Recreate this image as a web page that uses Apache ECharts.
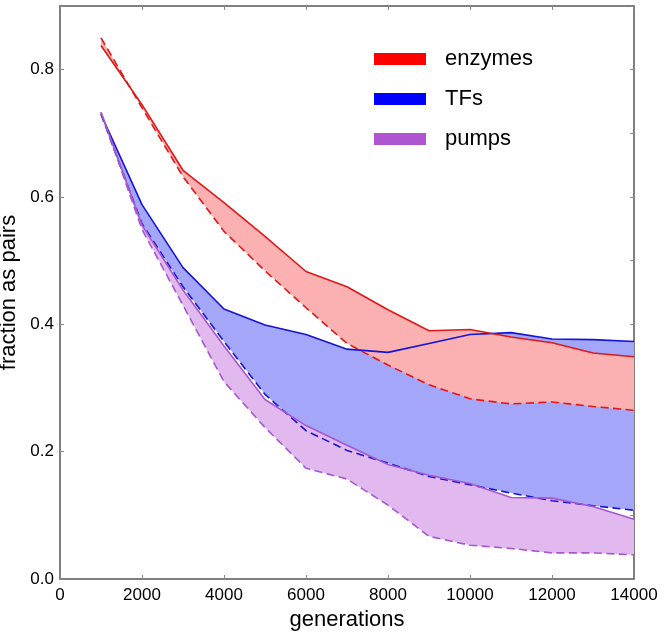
<!DOCTYPE html>
<html><head><meta charset="utf-8">
<script src="https://cdn.jsdelivr.net/npm/echarts@6/dist/echarts.min.js"></script>
<style>html,body{margin:0;padding:0;background:#fff}#c{width:664px;height:633px}</style>
</head><body><div id="c"></div>
<script>
var generations = [1000,2000,3000,4000,5000,6000,7000,8000,9000,10000,11000,12000,13000,14000];
var enzymesSolid  = [0.838,0.745,0.642,0.591,0.538,0.483,0.459,0.423,0.390,0.392,0.380,0.371,0.355,0.349];
var enzymesDashed = [0.850,0.740,0.632,0.546,0.484,0.426,0.370,0.336,0.305,0.283,0.275,0.278,0.271,0.265];
var tfsSolid      = [0.730,0.588,0.489,0.424,0.399,0.384,0.361,0.356,0.370,0.384,0.387,0.377,0.376,0.373];
var tfsDashed     = [0.730,0.558,0.459,0.373,0.290,0.233,0.202,0.182,0.161,0.148,0.135,0.123,0.115,0.108];
var pumpsSolid    = [0.733,0.556,0.454,0.366,0.282,0.241,0.210,0.180,0.163,0.150,0.128,0.127,0.114,0.094];
var pumpsDashed   = [0.733,0.549,0.430,0.310,0.238,0.174,0.157,0.116,0.067,0.053,0.048,0.041,0.041,0.038];
var xTicks = [0,2000,4000,6000,8000,10000,12000,14000];
var yTicks = [0.0,0.2,0.4,0.6,0.8];

var FONT = 'Liberation Sans';
var groups = [
  {name:'TFs', solid:tfsSolid, dashed:tfsDashed, fill:'#a4a7f9', line:'#1414d8', z:1},
  {name:'pumps', solid:pumpsSolid, dashed:pumpsDashed, fill:'#e1b9ee', line:'#a657d0', z:2},
  {name:'enzymes', solid:enzymesSolid, dashed:enzymesDashed, fill:'#fbb1b1', line:'#e01818', z:3}
];

function pairs(arr){ return generations.map(function(g,i){ return [g, arr[i]]; }); }

var series = [];
groups.forEach(function(gr){
  var bandData = generations.map(function(g,i){ return [g, gr.solid[i], gr.dashed[i]]; });
  series.push({
    name: gr.name, type:'custom', z: gr.z, silent:true,
    itemStyle:{color: gr.fill},
    encode:{x:0, y:[1,2]},
    data: bandData,
    renderItem: function(params, api){
      if (params.dataIndex !== 0) return null;
      var pts = [];
      for (var i=0;i<bandData.length;i++) pts.push(api.coord([bandData[i][0], bandData[i][1]]));
      for (var j=bandData.length-1;j>=0;j--) pts.push(api.coord([bandData[j][0], bandData[j][2]]));
      return {type:'polygon', shape:{points:pts}, style:{fill: gr.fill, stroke:null}};
    }
  });
});
groups.forEach(function(gr){
  series.push({type:'line', z:10+gr.z, data:pairs(gr.solid), symbol:'none', silent:true,
    lineStyle:{color:gr.line, width:1.6}});
  series.push({type:'line', z:10+gr.z, data:pairs(gr.dashed), symbol:'none', silent:true,
    lineStyle:{color:gr.line, width:1.6, type:[8,4.5]}});
});

var axisLine = {show:true, onZero:false, lineStyle:{color:'#555', width:1.5}};
var tick = {show:true, inside:true, length:4, lineStyle:{color:'#888', width:1}};
var chart = echarts.init(document.getElementById('c'), null, {renderer:'canvas'});
chart.setOption({
  animation:false,
  backgroundColor:'#fff',
  grid:{left:60, right:30, top:6, bottom:54, containLabel:false, outerBoundsMode:'none'},
  legend:{
    orient:'vertical', left:369, top:43, itemWidth:52, itemHeight:12, itemGap:18,
    selectedMode:false,
    textStyle:{fontFamily:FONT, fontSize:22, color:'#000', lineHeight:22, padding:[0,0,0,14]},
    data:[
      {name:'enzymes', icon:'rect', itemStyle:{color:'#ff0000'}},
      {name:'TFs', icon:'rect', itemStyle:{color:'#0000ff'}},
      {name:'pumps', icon:'rect', itemStyle:{color:'#b055d0'}}
    ]
  },
  xAxis:[
    {type:'value', min:xTicks[0], max:xTicks[xTicks.length-1], interval:2000, position:'bottom',
     name:'generations', nameLocation:'middle', nameGap:14,
     nameTextStyle:{fontFamily:FONT, fontSize:22, color:'#000'},
     axisLine:axisLine, splitLine:{show:false}, axisTick:tick,
     axisLabel:{fontFamily:FONT, fontSize:17, color:'#000', margin:8,
       formatter:function(v){ return String(v); }}},
    {type:'value', min:0, max:14000, interval:2000, position:'top',
     axisLine:axisLine, splitLine:{show:false}, axisTick:tick,
     axisLabel:{show:false}}
  ],
  yAxis:[
    {type:'value', min:0, max:0.9, interval:0.2, position:'left',
     name:'fraction as pairs', nameLocation:'middle', nameGap:30,
     nameTextStyle:{fontFamily:FONT, fontSize:22, color:'#000'},
     axisLine:axisLine, splitLine:{show:false}, axisTick:tick,
     axisLabel:{fontFamily:FONT, fontSize:17, color:'#000', margin:6,
       formatter:function(v){ return yTicks.some(function(t){return Math.abs(t-v)<1e-9;}) ? v.toFixed(1) : ''; }}},
    {type:'value', min:0, max:0.9, interval:0.1, position:'right',
     axisLine:axisLine, splitLine:{show:false}, axisTick:tick,
     axisLabel:{show:false}}
  ],
  series: series
});
</script></body></html>
